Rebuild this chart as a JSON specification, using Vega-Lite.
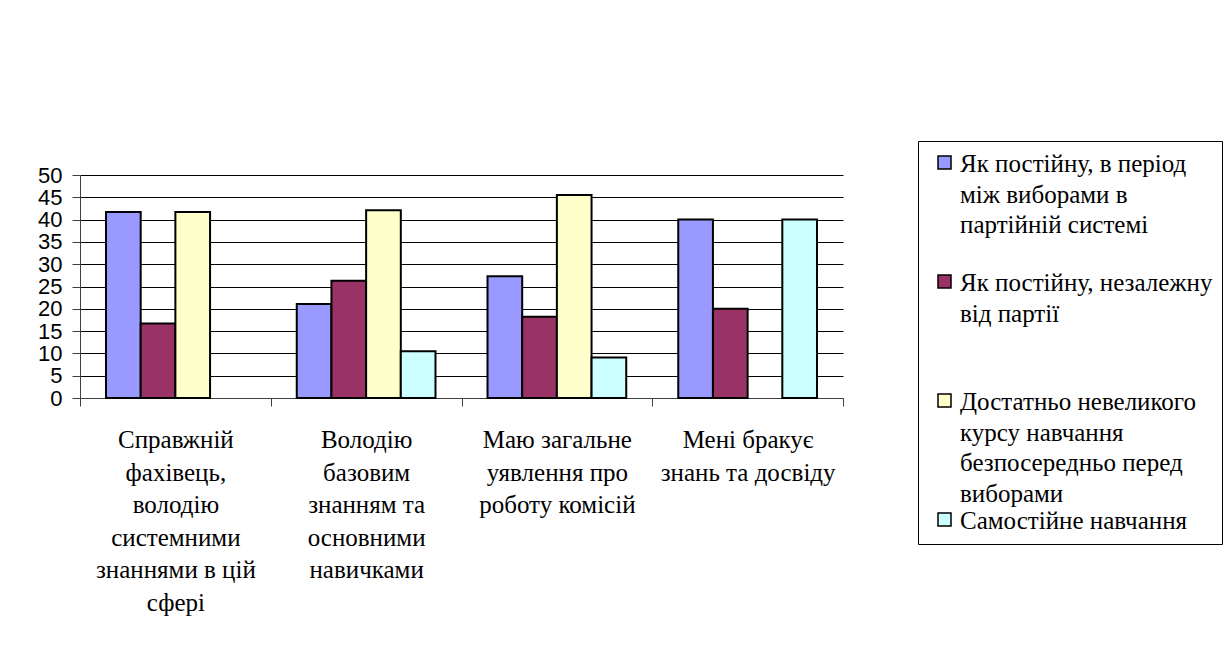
{
  "$schema": "https://vega.github.io/schema/vega-lite/v6.json",
  "width": 763,
  "height": 223,
  "autosize": {"type": "none"},
  "padding": {"left": 80, "top": 175, "right": 388, "bottom": 248},
  "background": "white",
  "data": {
    "values": [
      {"category": "Справжній фахівець, володію системними знаннями в цій сфері", "series": "Як постійну, в період між виборами в партійній системі", "value": 41.7},
      {"category": "Справжній фахівець, володію системними знаннями в цій сфері", "series": "Як постійну, незалежну від партії", "value": 16.7},
      {"category": "Справжній фахівець, володію системними знаннями в цій сфері", "series": "Достатньо невеликого курсу навчання безпосередньо перед виборами", "value": 41.7},
      {"category": "Володію базовим знанням та основними навичками", "series": "Як постійну, в період між виборами в партійній системі", "value": 21.1},
      {"category": "Володію базовим знанням та основними навичками", "series": "Як постійну, незалежну від партії", "value": 26.3},
      {"category": "Володію базовим знанням та основними навичками", "series": "Достатньо невеликого курсу навчання безпосередньо перед виборами", "value": 42.1},
      {"category": "Володію базовим знанням та основними навичками", "series": "Самостійне навчання", "value": 10.5},
      {"category": "Маю загальне уявлення про роботу комісій", "series": "Як постійну, в період між виборами в партійній системі", "value": 27.3},
      {"category": "Маю загальне уявлення про роботу комісій", "series": "Як постійну, незалежну від партії", "value": 18.2},
      {"category": "Маю загальне уявлення про роботу комісій", "series": "Достатньо невеликого курсу навчання безпосередньо перед виборами", "value": 45.5},
      {"category": "Маю загальне уявлення про роботу комісій", "series": "Самостійне навчання", "value": 9.1},
      {"category": "Мені бракує знань та досвіду", "series": "Як постійну, в період між виборами в партійній системі", "value": 40},
      {"category": "Мені бракує знань та досвіду", "series": "Як постійну, незалежну від партії", "value": 20},
      {"category": "Мені бракує знань та досвіду", "series": "Самостійне навчання", "value": 40}
    ]
  },
  "mark": {"type": "bar", "stroke": "#000000", "strokeWidth": 2, "strokeJoin": "miter"},
  "encoding": {
    "x": {
      "field": "category",
      "type": "nominal",
      "sort": [
        "Справжній фахівець, володію системними знаннями в цій сфері",
        "Володію базовим знанням та основними навичками",
        "Маю загальне уявлення про роботу комісій",
        "Мені бракує знань та досвіду"
      ],
      "scale": {"paddingInner": 0, "paddingOuter": 0},
      "axis": {
        "title": null,
        "tickBand": "extent",
        "tickSize": 8,
        "tickColor": "#404040",
        "domainColor": "#404040",
        "labelAngle": 0,
        "labelAlign": "center",
        "labelBaseline": "top",
        "labelPadding": 12,
        "labelFont": "Liberation Serif",
        "labelFontSize": 25,
        "labelLineHeight": 32.5,
        "labelColor": "#000000",
        "labelLimit": 0,
        "labelExpr": "datum.value == 'Справжній фахівець, володію системними знаннями в цій сфері' ? ['Справжній', 'фахівець,', 'володію', 'системними', 'знаннями в цій', 'сфері'] : datum.value == 'Володію базовим знанням та основними навичками' ? ['Володію', 'базовим', 'знанням та', 'основними', 'навичками'] : datum.value == 'Маю загальне уявлення про роботу комісій' ? ['Маю загальне', 'уявлення про', 'роботу комісій'] : datum.value == 'Мені бракує знань та досвіду' ? ['Мені бракує', 'знань та досвіду'] : ''"
      }
    },
    "xOffset": {
      "field": "series",
      "type": "nominal",
      "sort": [
        "Як постійну, в період між виборами в партійній системі",
        "Як постійну, незалежну від партії",
        "Достатньо невеликого курсу навчання безпосередньо перед виборами",
        "Самостійне навчання"
      ],
      "scale": {"paddingInner": 0, "paddingOuter": 0.75}
    },
    "y": {
      "field": "value",
      "type": "quantitative",
      "scale": {"domain": [0, 50], "nice": false},
      "axis": {
        "title": null,
        "values": [0, 5, 10, 15, 20, 25, 30, 35, 40, 45, 50],
        "grid": true,
        "gridColor": "#000000",
        "gridWidth": 1,
        "domainColor": "#404040",
        "tickColor": "#404040",
        "tickSize": 8,
        "labelPadding": 10,
        "labelOffset": -9.6,
        "labelFont": "Liberation Sans",
        "labelFontSize": 22,
        "labelColor": "#000000",
        "labelOverlap": false
      }
    },
    "color": {
      "field": "series",
      "type": "nominal",
      "scale": {
        "domain": [
          "Як постійну, в період між виборами в партійній системі",
          "Як постійну, незалежну від партії",
          "Достатньо невеликого курсу навчання безпосередньо перед виборами",
          "Самостійне навчання"
        ],
        "range": ["#9999FF", "#993366", "#FFFFCC", "#CCFFFF"]
      },
      "legend": {
        "title": null,
        "orient": "none",
        "legendX": 838,
        "legendY": -34,
        "strokeColor": "#000000",
        "padding": 9,
        "gridAlign": "all",
        "rowPadding": 0,
        "symbolType": "square",
        "symbolSize": 169,
        "symbolStrokeColor": "#000000",
        "symbolStrokeWidth": 1.5,
        "symbolOffset": 5,
        "labelFont": "Liberation Serif",
        "labelFontSize": 25,
        "labelColor": "#000000",
        "labelLimit": 0,
        "labelOffset": 3,
        "labelBaseline": "alphabetic",
        "labelExpr": "datum.label == 'Як постійну, в період між виборами в партійній системі' ? ['Як постійну, в період', 'між виборами в', 'партійній системі'] : datum.label == 'Як постійну, незалежну від партії' ? ['Як постійну, незалежну', 'від партії'] : datum.label == 'Достатньо невеликого курсу навчання безпосередньо перед виборами' ? ['Достатньо невеликого', 'курсу навчання', 'безпосередньо перед', 'виборами'] : datum.label"
      }
    }
  },
  "config": {
    "view": {"stroke": null},
    "style": {"guide-label": {"dy": 9.6, "lineHeight": 30.5}}
  }
}
